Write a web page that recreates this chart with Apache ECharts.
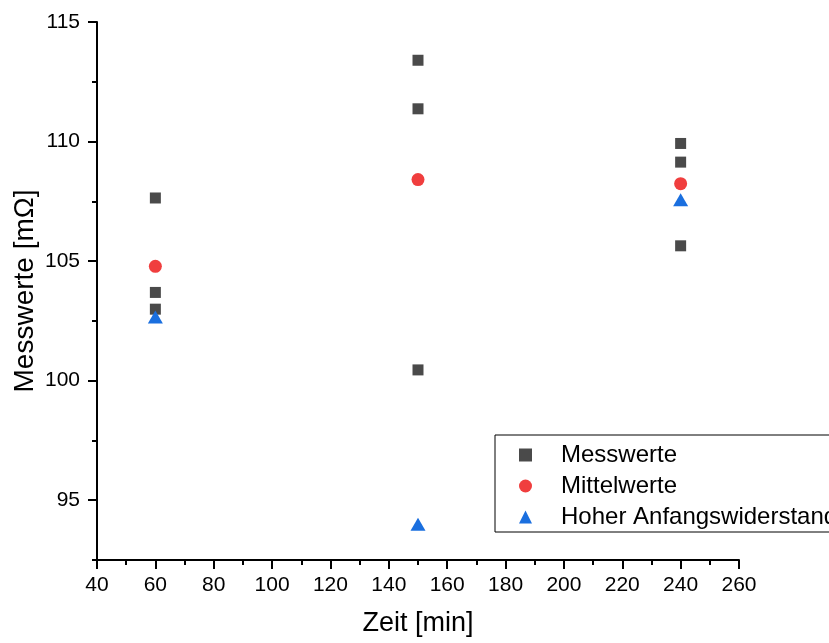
<!DOCTYPE html>
<html>
<head>
<meta charset="utf-8">
<script src="https://cdn.jsdelivr.net/npm/echarts@6/dist/echarts.min.js"></script>
<style>
  html, body { margin: 0; padding: 0; background: #fff; }
  #chart { width: 829px; height: 643px; }
</style>
</head>
<body>
<div id="chart"></div>
<script>
// Messwerte (Einzelmessungen)
const messX = [60, 60, 60, 150, 150, 150, 240, 240, 240];
const messY = [107.64, 103.69, 102.99, 113.40, 111.37, 100.45, 109.92, 109.14, 105.64];
// Mittelwerte
const mittelX = [60, 150, 240];
const mittelY = [104.78, 108.41, 108.24];
// Hoher Anfangswiderstand
const hoherX = [60, 150, 240];
const hoherY = [102.66, 94.0, 107.57];

const yMajor = [95, 100, 105, 110, 115];
const yMinor = [92.5, 97.5, 102.5, 107.5, 112.5];
const seriesNames = ['Messwerte', 'Mittelwerte', 'Hoher Anfangswiderstand'];

const font = 'Liberation Sans, Arial, sans-serif';
const pairs = (xs, ys) => xs.map((x, i) => [x, ys[i]]);

const chart = echarts.init(document.getElementById('chart'), null, { renderer: 'canvas' });

chart.setOption({
  animation: false,
  grid: { left: 97, top: 22, right: 90, bottom: 83, outerBoundsMode: 'none' },
  legend: {
    orient: 'vertical',
    left: 495,
    top: 435,
    padding: [8, 400, 3, 24],
    itemGap: 7,
    itemWidth: 13,
    itemHeight: 13,
    borderColor: '#000',
    borderWidth: 1,
    backgroundColor: '#fff',
    textStyle: { fontFamily: font, fontSize: 24, color: '#000', padding: [0, 0, 0, 24] },
    data: [
      { name: seriesNames[0], icon: 'rect' },
      { name: seriesNames[1], icon: 'circle' },
      { name: seriesNames[2], icon: 'triangle' }
    ]
  },
  xAxis: {
    type: 'value',
    min: 40,
    max: 260,
    interval: 20,
    name: 'Zeit [min]',
    nameLocation: 'middle',
    nameGap: 50,
    nameMoveOverlap: false,
    nameTextStyle: { fontFamily: font, fontSize: 27, color: '#000' },
    axisLine: { show: true, onZero: false, lineStyle: { color: '#000', width: 2 } },
    axisTick: { show: true, length: 9, lineStyle: { color: '#000', width: 2 } },
    minorTick: { show: true, splitNumber: 2, length: 5, lineStyle: { color: '#000', width: 2 } },
    axisLabel: { fontFamily: font, fontSize: 21, color: '#000', margin: 15 },
    splitLine: { show: false }
  },
  yAxis: [
    {
      type: 'value',
      min: 92.5,
      max: 115,
      name: 'Messwerte [mΩ]',
      nameLocation: 'middle',
      nameGap: 58,
      nameMoveOverlap: false,
      nameTextStyle: { fontFamily: font, fontSize: 28, color: '#000' },
      axisLine: { show: true, onZero: false, lineStyle: { color: '#000', width: 2 } },
      axisTick: { show: true, length: 9, customValues: yMajor, lineStyle: { color: '#000', width: 2 } },
      axisLabel: { fontFamily: font, fontSize: 21, color: '#000', margin: 17, customValues: yMajor },
      splitLine: { show: false }
    },
    {
      type: 'value',
      position: 'left',
      min: 92.5,
      max: 115,
      axisLine: { show: false },
      axisTick: { show: true, length: 5, customValues: yMinor, lineStyle: { color: '#000', width: 2 } },
      axisLabel: { show: false },
      splitLine: { show: false }
    }
  ],
  series: [
    {
      name: seriesNames[0],
      type: 'scatter',
      symbol: 'rect',
      symbolSize: 11,
      itemStyle: { color: '#4a4a4a', opacity: 1 },
      data: pairs(messX, messY)
    },
    {
      name: seriesNames[1],
      type: 'scatter',
      symbol: 'circle',
      symbolSize: 13,
      itemStyle: { color: '#f03e3e', opacity: 1 },
      data: pairs(mittelX, mittelY)
    },
    {
      name: seriesNames[2],
      type: 'scatter',
      symbol: 'triangle',
      symbolSize: [15, 13],
      itemStyle: { color: '#1a6fdf', opacity: 1 },
      data: pairs(hoherX, hoherY)
    }
  ]
});
</script>
</body>
</html>
